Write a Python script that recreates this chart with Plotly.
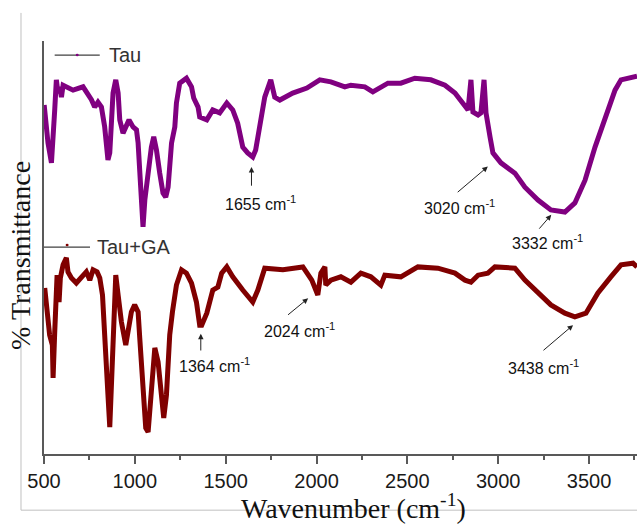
import plotly.graph_objects as go

# ---- data ----
tau_wavenumber = [501, 522, 541, 553, 559, 568, 577, 586, 596, 605, 623, 660, 715, 733, 761, 779, 797, 816,
                  834, 852, 862, 880, 895, 908, 917, 935, 954, 968, 990, 1009, 1018, 1031, 1045, 1055, 1073,
                  1091, 1104, 1119, 1137, 1155, 1170, 1183, 1202, 1220, 1229, 1247, 1284, 1312, 1324, 1348,
                  1357, 1396, 1429, 1467, 1506, 1539, 1566, 1594, 1621, 1649, 1665, 1688, 1715, 1748, 1770,
                  1798, 1869, 1947, 2018, 2079, 2156, 2189, 2266, 2310, 2393, 2464, 2541, 2629, 2707, 2762,
                  2817, 2834, 2850, 2861, 2889, 2905, 2922, 2933, 2955, 2971, 3015, 3092, 3147, 3219, 3290,
                  3367, 3422, 3478, 3533, 3588, 3643, 3676, 3764]
tau_transmittance = [84.5, 75.3, 70.5, 76.8, 83.3, 90.6, 87.4, 88.9, 86.4, 89.3, 88.9, 88.1, 88.9, 87.7, 85.8,
                     84.0, 85.2, 84.0, 79.2, 71.2, 72.9, 87.4, 90.6, 87.4, 80.9, 77.7, 79.7, 80.9, 79.2, 78.5,
                     75.3, 67.1, 55.0, 61.5, 68.8, 74.3, 76.8, 73.6, 68.0, 63.2, 62.2, 64.6, 75.3, 79.2, 85.0,
                     89.8, 91.0, 88.9, 86.2, 84.0, 81.6, 80.9, 83.3, 82.6, 85.0, 83.3, 80.1, 74.3, 72.9, 71.9,
                     73.6, 79.7, 86.4, 90.6, 86.4, 85.7, 87.4, 88.6, 90.6, 90.1, 88.9, 89.3, 88.9, 87.7, 89.8,
                     89.8, 91.0, 90.6, 89.3, 87.4, 84.0, 83.3, 90.6, 82.8, 82.1, 82.6, 90.6, 82.6, 76.8, 72.9,
                     70.5, 68.0, 64.6, 61.5, 59.1, 58.6, 60.8, 66.3, 74.3, 81.6, 88.1, 90.6, 91.5]

tauga_wavenumber = [504, 517, 531, 546, 550, 559, 564, 572, 583, 590, 605, 623, 632, 651, 678, 706, 733, 752,
                    770, 792, 807, 822, 840, 852, 862, 871, 880, 895, 908, 926, 950, 963, 981, 999, 1018, 1027,
                    1045, 1060, 1073, 1091, 1110, 1128, 1147, 1159, 1174, 1192, 1207, 1229, 1257, 1284, 1312,
                    1339, 1357, 1368, 1396, 1429, 1457, 1478, 1506, 1539, 1594, 1649, 1677, 1715, 1815, 1925,
                    1974, 2007, 2024, 2046, 2051, 2079, 2134, 2189, 2244, 2299, 2354, 2376, 2464, 2558, 2668,
                    2762, 2817, 2850, 2889, 2943, 2982, 3092, 3147, 3219, 3290, 3367, 3422, 3483, 3549, 3620,
                    3676, 3742, 3764]
tauga_transmittance = [40.2, 34.4, 28.8, 26.4, 18.4, 29.5, 39.2, 43.3, 36.8, 42.6, 45.8, 47.5, 44.1, 42.6, 41.4,
                       42.6, 44.1, 42.1, 44.6, 44.1, 42.6, 38.5, 26.4, 14.3, 6.5, 18.4, 30.5, 43.3, 38.5, 32.0,
                       26.4, 29.5, 34.4, 36.1, 34.4, 28.1, 14.3, 6.3, 5.3, 16.0, 25.7, 22.3, 12.6, 8.7, 14.3,
                       28.8, 34.4, 40.9, 44.6, 43.8, 41.4, 36.8, 31.2, 31.2, 34.1, 39.7, 40.4, 43.8, 45.3, 42.9,
                       39.7, 36.8, 39.7, 45.0, 44.6, 45.3, 42.1, 38.5, 43.8, 45.3, 40.9, 42.1, 42.9, 41.6, 43.8,
                       42.9, 40.9, 43.3, 42.9, 45.3, 45.0, 43.8, 42.1, 41.6, 43.3, 43.8, 45.3, 45.0, 42.1, 39.2,
                       36.1, 34.1, 33.2, 34.1, 39.0, 42.9, 45.8, 46.2, 45.3]

x_ticks = [500, 1000, 1500, 2000, 2500, 3000, 3500]

# peak labels: text position, arrow tail, arrow tip (wavenumber, transmittance)
peak_labels = ["1655", "3020", "3332", "1364", "2024", "3438"]
label_wn = [1689, 2788, 3274, 1440, 1905, 3252]
label_T = [60.8, 59.9, 51.4, 21.5, 30.0, 21.1]
tail_wn = [1642, 2769, 3219, 1363, 1835, 3241]
tail_T = [64.6, 63.1, 54.2, 24.7, 33.4, 24.8]
tip_wn = [1642, 2943, 3292, 1363, 1954, 3412]
tip_T = [69.5, 69.6, 57.9, 29.1, 37.7, 31.2]

series_names = ["Tau", "Tau+GA"]
series_colors = ["#800080", "#800000"]

fig = go.Figure()
fig.add_trace(go.Scatter(x=tau_wavenumber, y=tau_transmittance, mode="lines", name=series_names[0],
                         line=dict(color=series_colors[0], width=5), showlegend=False))
fig.add_trace(go.Scatter(x=tauga_wavenumber, y=tauga_transmittance, mode="lines", name=series_names[1],
                         line=dict(color=series_colors[1], width=5), showlegend=False))

annotations = []
for lab, lx, ly, ax_, ay_, tx, ty in zip(peak_labels, label_wn, label_T, tail_wn, tail_T, tip_wn, tip_T):
    annotations.append(dict(x=lx, y=ly, xref="x", yref="y", text=lab + " cm<sup>-1</sup>", showarrow=False,
                            font=dict(family="Liberation Sans", size=16, color="#111")))
    annotations.append(dict(x=tx, y=ty, ax=ax_, ay=ay_, xref="x", yref="y", axref="x", ayref="y", text="",
                            showarrow=True, arrowhead=2, arrowsize=1.1, arrowwidth=1,
                            arrowcolor="#222"))

# legend-like labels
annotations.append(dict(x=0.106, y=0.966, xref="paper", yref="paper", xanchor="left", yanchor="middle",
                        text=series_names[0], showarrow=False,
                        font=dict(family="Liberation Sans", size=20, color="#333")))
annotations.append(dict(x=0.086, y=0.501, xref="paper", yref="paper", xanchor="left", yanchor="middle",
                        text=series_names[1], showarrow=False,
                        font=dict(family="Liberation Sans", size=20, color="#333")))
# y title
annotations.append(dict(x=-0.0388, y=0.482, xref="paper", yref="paper", xanchor="center", yanchor="middle",
                        text="% Transmittance", textangle=-90, showarrow=False,
                        font=dict(family="Liberation Serif", size=28, color="#111")))
# x title
annotations.append(dict(x=0.522, y=-0.128, xref="paper", yref="paper", xanchor="center", yanchor="middle",
                        text="Wavenumber (cm<sup>-1</sup>)", showarrow=False,
                        font=dict(family="Liberation Serif", size=28, color="#111")))

shapes = [
    # outer light frame
    dict(type="line", xref="paper", yref="paper", x0=-0.0388, x1=-0.0388, y0=1.068, y1=-0.136,
         line=dict(color="#c0c0c0", width=1)),
    dict(type="line", xref="paper", yref="paper", x0=-0.0388, x1=1.01, y0=-0.136, y1=-0.136,
         line=dict(color="#c0c0c0", width=1)),
    # legend lines and dots
    dict(type="line", xref="paper", yref="paper", x0=0.018, x1=0.094, y0=0.966, y1=0.966,
         line=dict(color="#404040", width=1.2)),
    dict(type="circle", xref="paper", yref="paper", x0=0.0535, x1=0.0585, y0=0.963, y1=0.969,
         fillcolor=series_colors[0], line=dict(width=0)),
    dict(type="line", xref="paper", yref="paper", x0=0.0, x1=0.0776, y0=0.501, y1=0.501,
         line=dict(color="#404040", width=1.2)),
    dict(type="circle", xref="paper", yref="paper", x0=0.0365, x1=0.0415, y0=0.503, y1=0.509,
         fillcolor=series_colors[1], line=dict(width=0)),
]

fig.update_layout(
    width=637, height=525,
    margin=dict(l=44, r=0, t=41, b=71),
    paper_bgcolor="white", plot_bgcolor="white",
    showlegend=False,
    annotations=annotations,
    shapes=shapes,
    xaxis=dict(range=[500, 3764], tickvals=x_ticks, ticktext=[str(v) for v in x_ticks],
               ticks="outside", ticklen=8, tickwidth=1.5, tickcolor="#595959",
               minor=dict(dtick=250, tick0=500, ticks="outside", ticklen=4, tickwidth=1.5, tickcolor="#595959"),
               showline=True, linecolor="#595959", linewidth=1.5, showgrid=False, zeroline=False,
               tickfont=dict(family="Liberation Sans", size=20, color="#1a1a1a")),
    yaxis=dict(range=[0, 100], showticklabels=False, ticks="", showline=True, linecolor="#595959",
               linewidth=1.5, showgrid=False, zeroline=False),
)

fig.write_html("out.html", config={"displayModeBar": False},
               post_script="document.body.style.margin='0px';")
